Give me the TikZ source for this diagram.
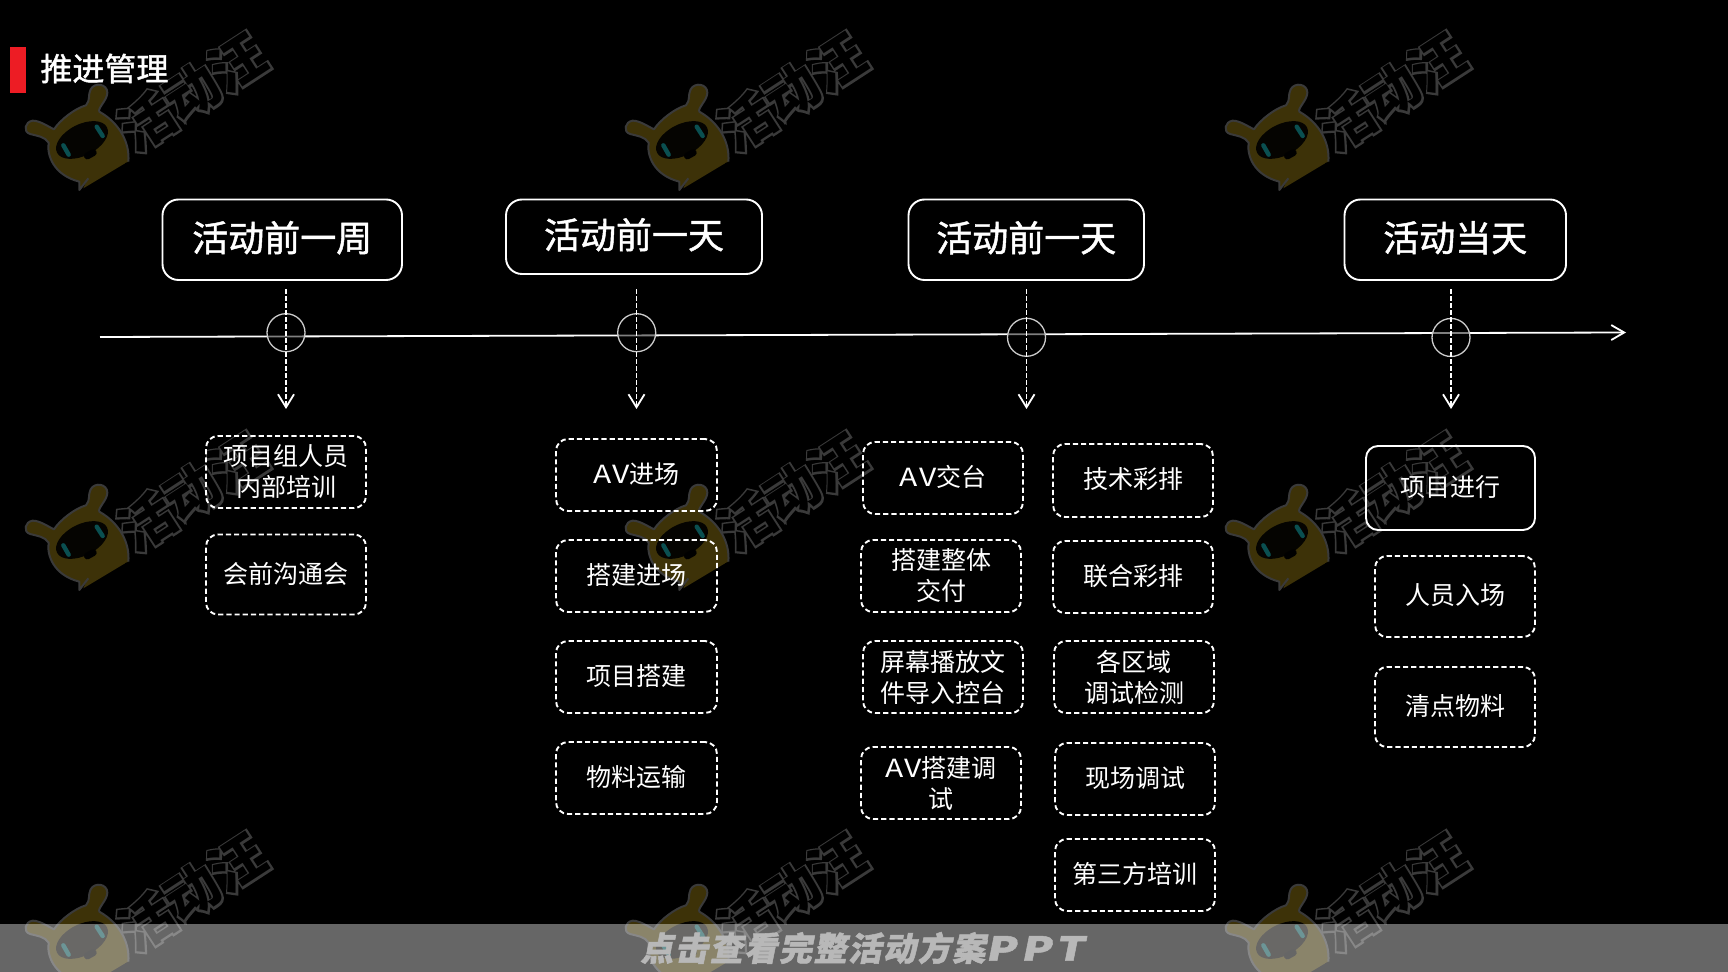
\documentclass[tikz,border=0pt]{standalone}
\usepackage{fontspec}
\usetikzlibrary{arrows.meta}
\setmainfont{Noto Sans CJK SC}
\newfontfamily\headf[FakeBold=1.3]{Noto Sans CJK SC}
\newfontfamily\avf[FakeStretch=1.2,LetterSpace=6]{Noto Sans CJK SC}
\newfontfamily\wmo[BoldFeatures={FakeBold=7}]{Noto Sans CJK SC}
\newfontfamily\wmi{Noto Sans CJK SC}
\newfontfamily\bandf[FakeSlant=0.2,LetterSpace=5,BoldFeatures={FakeBold=1.5}]{Noto Sans CJK SC}
\newfontfamily\bandl[FakeSlant=0.2,FakeStretch=1.35,LetterSpace=14,BoldFeatures={FakeBold=1.5}]{Noto Sans CJK SC}
\definecolor{wmgray}{HTML}{3A3A3A}
\definecolor{wmolive}{HTML}{3D3208}
\definecolor{wmteal}{HTML}{0A4F50}
\definecolor{barred}{HTML}{ED1C24}
\newcommand\up[1]{\raisebox{0.5pt}[\height][\depth]{#1}}
\newcommand\uph[1]{\raisebox{1pt}[\height][\depth]{#1}}
\newcommand\av{{\avf AV}}
\tikzset{
  basebox/.style={rounded corners=6pt,inner sep=0pt,align=center,text=white,white,line width=0.95pt,
    font=\fontsize{12.5}{15.5}\selectfont},
  dashbox/.style={basebox,draw,dash pattern=on 2.6pt off 1.5pt},
  solidbox/.style={basebox,draw},
  headbox/.style={draw=white,text=white,rounded corners=8pt,inner sep=0pt,line width=0.95pt,
    font=\fontsize{18}{22}\selectfont\headf},
  mark ring/.style={circle,draw=white!80!black,line width=0.65pt,fill=black,fill opacity=0.5,
    minimum size=19pt,inner sep=0pt},
  timeline/.style={draw=white,line width=0.9pt,-{Straight Barb[length=6.5pt,width=7.5pt,line width=0.9pt]}},
  dropline/.style={draw=white,line width=0.95pt,dash pattern=on 2.2pt off 1.3pt,
    -{Straight Barb[length=6.5pt,width=8pt,line width=0.9pt]}},
}
\newcommand\labbox[7]{%
  \pgfmathsetmacro\bw{(#5-#3)/2}\pgfmathsetmacro\bh{(#6-#4)/2}%
  \pgfmathsetmacro\cx{(#3+#5)/2}\pgfmathsetmacro\cy{(#4+#6)/2}%
  \node[#1,minimum width=\bw pt,minimum height=\bh pt] (#2) at (\cx,\cy) {#7};}
\newcommand\wmark[2]{%
  \pgfmathsetmacro\wx{192+#1}\pgfmathsetmacro\wy{92+#2}%
  \node[rotate=33,text=wmgray,font=\fontsize{27}{30}\selectfont\wmo\bfseries,inner sep=0pt] (wo#1#2) at (\wx,\wy) {活动汪};
  \node[rotate=33,text=black,font=\fontsize{27}{30}\selectfont\wmi\bfseries,inner sep=0pt] (wi#1#2) at (\wx,\wy) {活动汪};
  \pgfmathsetmacro\lx{20+#1}\pgfmathsetmacro\ly{80+#2}%
  \begin{scope}[shift={(\lx,\ly)},x=0.16667pt,y=-0.16667pt]
    \fill[wmolive] (315,250) -- (190,325) -- (205,290) -- (250,220) -- cycle;
    \filldraw[fill=wmolive,draw=wmgray,line width=1pt,line join=round]
      (325,245) .. controls (330,190) and (300,130) .. (238,95)
      .. controls (232,85) and (262,60) .. (262,38)
      .. controls (262,12) and (225,5) .. (212,28)
      .. controls (203,45) and (212,60) .. (198,76)
      .. controls (165,85) and (120,120) .. (102,148)
      .. controls (85,140) and (60,122) .. (38,122)
      .. controls (15,125) and (8,155) .. (30,162)
      .. controls (50,167) and (75,170) .. (86,188)
      .. controls (80,225) and (100,285) .. (178,305)
      -- (178,330) -- (205,295);
    \fill[black!92!wmolive,rotate around={27:(186,180)}] (186,180) ellipse [x radius=84,y radius=47];
    \draw[wmteal,line width=2.2pt,line cap=round] (130,196) -- (146,224);
    \draw[wmteal,line width=2.2pt,line cap=round] (230,140) -- (248,168);
    \draw[black,line width=3.4pt,line cap=round] (202,228) -- (220,218);
  \end{scope}}
\begin{document}
\begin{tikzpicture}[x=0.5pt,y=-0.5pt]
  \fill[black,use as bounding box] (0,0) rectangle (1728,972);
  \foreach \dx in {0,600,1200} \foreach \dy in {0,400,800} {\wmark{\dx}{\dy}}

  % title
  \fill[barred] (10,47) rectangle (26,93);
  \node[text=white,anchor=west,inner sep=0pt,font=\fontsize{16}{20}\selectfont\headf] (title) at (40,68.5) {推进管理};

  % heads
  \labbox{headbox}{h1}{162.5}{199.5}{402}{280}{\uph{活动前一周}}
  \labbox{headbox}{h2}{506}{199.5}{762}{274}{\uph{活动前一天}}
  \labbox{headbox}{h3}{908.5}{199.5}{1144}{280}{\uph{活动前一天}}
  \labbox{headbox}{h4}{1344.5}{199.5}{1566}{280}{\uph{活动当天}}

  % timeline
  \coordinate (ts) at (100,337);
  \coordinate (te) at (1626,332.5);
  \draw[timeline] (ts) -- (te);

  % rings and drop lines
  \node[mark ring] (r1) at (286,332.7) {};
  \node[mark ring] (r2) at (636.7,332.7) {};
  \node[mark ring] (r3) at (1026.5,337.3) {};
  \node[mark ring] (r4) at (1451,337.5) {};
  \foreach \i/\x in {1/286,2/636.5,3/1026.5,4/1451} {
    \coordinate (ds\i) at (\x,289.5);
    \coordinate (de\i) at (\x,409);
    \draw[dropline] (ds\i) -- (de\i);
  }

  % column 1
  \labbox{dashbox}{a1}{206}{436}{366}{508}{项目组人员\\内部培训}
  \labbox{dashbox}{a2}{206}{534.5}{366}{614.5}{\up{会前沟通会}}
  % column 2
  \labbox{dashbox}{b1}{556}{439}{717}{511}{\up{\av 进场}}
  \labbox{dashbox}{b2}{556}{540}{717}{612}{\up{搭建进场}}
  \labbox{dashbox}{b3}{556}{641}{717}{713}{\up{项目搭建}}
  \labbox{dashbox}{b4}{556}{742}{717}{814}{\up{物料运输}}
  % column 3
  \labbox{dashbox}{c1}{863}{442}{1023}{514}{\up{\av 交台}}
  \labbox{dashbox}{c2}{861}{540}{1021}{612}{搭建整体\\交付}
  \labbox{dashbox}{c3}{863}{641}{1023}{713}{屏幕播放文\\件导入控台}
  \labbox{dashbox}{c4}{861}{747}{1021}{819}{\av 搭建调\\试}
  % column 4
  \labbox{dashbox}{d1}{1053}{444}{1213}{517}{\up{技术彩排}}
  \labbox{dashbox}{d2}{1053}{541}{1213}{613}{\up{联合彩排}}
  \labbox{dashbox}{d3}{1054}{641}{1214}{713}{各区域\\调试检测}
  \labbox{dashbox}{d4}{1055}{743}{1215}{815}{\up{现场调试}}
  \labbox{dashbox}{d5}{1055}{839}{1215}{911}{\up{第三方培训}}
  % column 5
  \labbox{solidbox}{e1}{1366}{446}{1535}{530}{\up{项目进行}}
  \labbox{dashbox}{e2}{1375}{556}{1535}{637}{\up{人员入场}}
  \labbox{dashbox}{e3}{1375}{667}{1535}{747}{\up{清点物料}}

  % bottom band
  \fill[white,opacity=0.4] (0,924) rectangle (1728,972);
  \node[text=white!72!black,inner sep=0pt,font=\fontsize{16.5}{20}\selectfont\bandf\bfseries] (band) at (862,948) {点击查看完整活动方案{\bandl\bfseries PPT}};
\end{tikzpicture}
\end{document}
